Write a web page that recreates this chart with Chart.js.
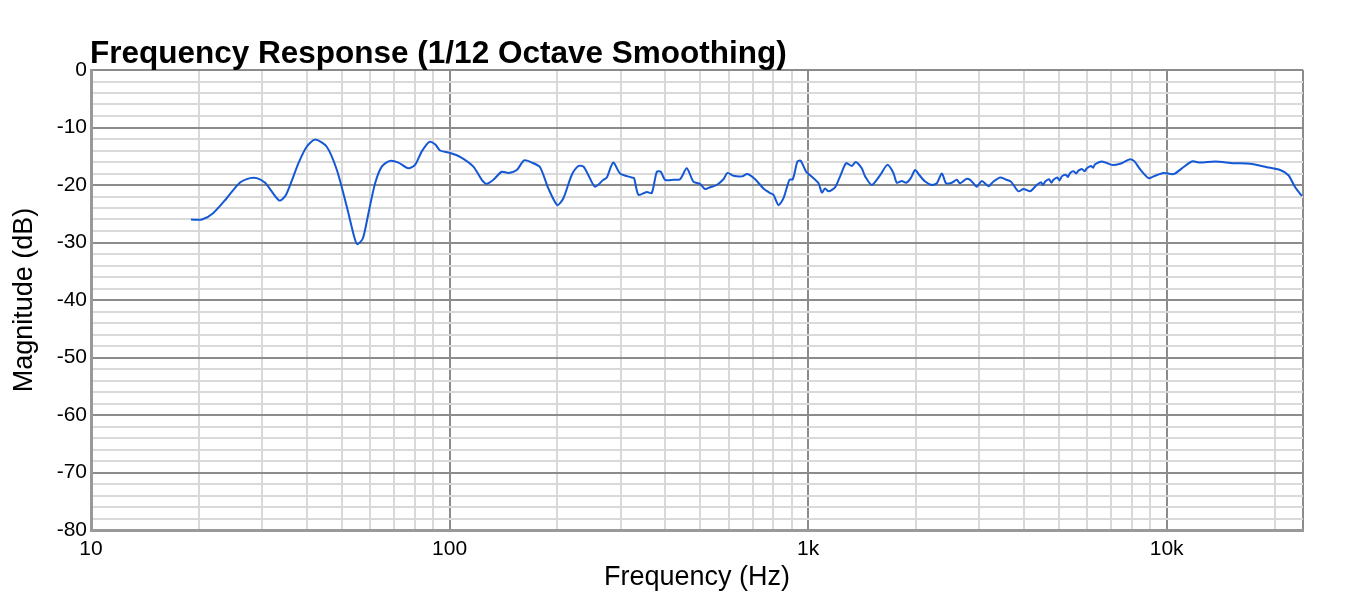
<!DOCTYPE html>
<html>
<head>
<meta charset="utf-8">
<script src="https://cdn.jsdelivr.net/npm/chart.js@4.4.1/dist/chart.umd.min.js"></script>
<style>
  html, body { margin: 0; padding: 0; background: #fff; }
  #wrap { width: 1368px; height: 608px; }
</style>
</head>
<body>
<div id="wrap"><canvas id="fr"></canvas></div>
<script>
const freqs = [19, 20.4, 21.9, 23.9, 26.0, 27.8, 29.0, 30.6, 33.5, 35.0, 37.9, 40.0, 42.2, 45.4, 48.5,
  51.7, 54.2, 55.3, 57.3, 59.4, 62.0, 64.7, 68.2, 72.0, 76.8, 80.1, 83.6, 87.8, 91.1, 94.1,
  100, 107, 116.5, 123, 127, 132.5, 139.8, 145.9, 154, 161.4, 169.6, 178.8, 188.6, 199.8, 207.7,
  219, 228.7, 236.2, 243.9, 254.6, 268.5, 274.4, 286.2, 298.9, 322.2, 327, 336.3, 354.8, 366.4,
  378.4, 388.3, 399.2, 421.1, 439.5, 458.7, 478.6, 499.5, 516, 533, 556, 580.5, 595.6, 619, 653,
  677, 711.6, 750.6, 783.4, 800.5, 826.8, 853.7, 887, 906.5, 934, 954, 987, 1013, 1069, 1092,
  1115, 1140, 1189, 1228, 1276, 1324, 1358, 1411, 1442, 1505, 1588, 1664, 1729, 1767, 1825,
  1877, 1933, 1988, 2044, 2120, 2213, 2285, 2360, 2426, 2516, 2598, 2650, 2712, 2770, 2830,
  2890, 2954, 3051, 3184, 3288, 3433, 3544, 3676, 3740, 3862, 3987, 4161, 4250, 4344, 4460,
  4520, 4583, 4700, 4770, 4834, 4950, 5030, 5101, 5230, 5300, 5381, 5500, 5590, 5676, 5800,
  5900, 5991, 6150, 6230, 6318, 6597, 7035, 7421, 7662, 7911, 8135, 8436, 8898, 9191, 9799,
  10450, 11026, 11757, 12402, 13655, 15360, 17095, 19025, 20725, 21862, 22825, 23831];
const mags = [-26.0, -26.0, -24.9, -22.3, -19.6, -18.8, -18.8, -19.6, -22.7, -21.7, -16.2, -13.3, -12.1, -13.3, -17.4,
  -23.8, -29.0, -30.3, -29.3, -24.9, -19.7, -16.8, -15.8, -16.1, -17.1, -16.5, -14.2, -12.5, -12.9, -14.0,
  -14.4, -15.1, -16.8, -19.1, -19.8, -19.1, -17.7, -17.9, -17.4, -15.7, -16.1, -16.9, -20.6, -23.5, -22.3,
  -18.3, -16.7, -16.8, -18.3, -20.3, -19.1, -18.7, -16.1, -18.0, -18.7, -18.8, -21.7, -21.2, -21.4,
  -17.7, -17.7, -19.1, -19.1, -19.0, -17.1, -19.4, -19.8, -20.7, -20.4, -20.0, -19.0, -17.9, -18.4, -18.5,
  -18.1, -19.0, -20.6, -21.4, -21.7, -23.5, -22.3, -19.1, -19.0, -15.9, -15.8, -17.7, -18.3, -19.7, -21.3,
  -20.6, -21.1, -20.4, -18.5, -16.2, -16.7, -16.0, -17.1, -18.5, -20.0, -18.3, -16.5, -17.9, -19.6, -19.3,
  -19.6, -18.8, -17.4, -18.3, -19.4, -20.0, -19.7, -18.0, -19.7, -19.6, -19.1, -19.7, -19.3, -18.9, -19.1,
  -19.7, -20.3, -19.3, -20.2, -19.4, -18.7, -19.0, -19.4, -20.0, -21.1, -20.7, -21.1, -20.6, -20.0, -19.5,
  -20.0, -19.4, -19.0, -19.6, -19.1, -18.7, -19.2, -18.5, -18.2, -18.6, -17.9, -17.6, -18.0, -17.5, -17.2,
  -17.6, -17.1, -16.7, -17.0, -16.4, -15.9, -16.5, -16.3, -15.9, -15.5, -15.9, -17.3, -18.8, -18.5, -17.9,
  -18.1, -17.1, -15.9, -16.1, -15.9, -16.2, -16.3, -16.9, -17.4, -18.3, -20.4, -21.9];

// axis ticks
const xMajor = [10, 100, 1000, 10000];
const xMajorLabels = ['10', '100', '1k', '10k'];
const xMinor = [20, 30, 40, 50, 60, 70, 80, 90, 200, 300, 400, 500, 600, 700, 800, 900,
  2000, 3000, 4000, 5000, 6000, 7000, 8000, 9000, 20000];
const xMin = 10, xMax = 24000;
const yMin = -80, yMax = 0, yMinorStep = 2, yMajorStep = 10;

const chartTitle = 'Frequency Response (1/12 Octave Smoothing)';
const fontFamily = '"Liberation Sans", Arial, sans-serif';

const points = freqs.map((f, i) => ({ x: f, y: mags[i] }));

const titlePlugin = {
  id: 'leftTitle',
  afterDraw(chart) {
    const ctx = chart.ctx;
    ctx.save();
    ctx.font = 'bold 31.5px ' + fontFamily;
    ctx.fillStyle = '#000';
    ctx.textBaseline = 'alphabetic';
    ctx.fillText(chartTitle, chart.chartArea.left - 1, 63);
    ctx.restore();
  }
};

new Chart(document.getElementById('fr'), {
  type: 'scatter',
  data: {
    datasets: [{
      data: points,
      showLine: true,
      borderColor: '#1558d6',
      borderWidth: 2,
      pointRadius: 0,
      tension: 0.25,
      fill: false
    }]
  },
  options: {
    responsive: true,
    maintainAspectRatio: false,
    animation: false,
    layout: { padding: { top: 70, right: 65, bottom: 0, left: 0 } },
    plugins: {
      legend: { display: false },
      tooltip: { enabled: false }
    },
    scales: {
      x: {
        type: 'logarithmic',
        min: xMin,
        max: xMax,
        afterBuildTicks(scale) {
          const vals = xMajor.concat(xMinor, [xMax]).sort((a, b) => a - b);
          scale.ticks = vals.map(v => ({ value: v }));
        },
        afterFit(scale) { scale.height = 78; },
        ticks: {
          autoSkip: false,
          maxRotation: 0,
          padding: 7,
          color: '#000',
          font: { family: fontFamily, size: 21 },
          callback(v) {
            const i = xMajor.indexOf(v);
            return i >= 0 ? xMajorLabels[i] : '';
          }
        },
        grid: {
          drawTicks: false,
          lineWidth: 2,
          color(ctx) {
            const v = ctx.tick && ctx.tick.value;
            return (xMajor.includes(v) || v === xMax) ? '#8c8c8c' : '#d9d9d9';
          }
        },
        border: { color: '#999', width: 3 },
        title: {
          display: true,
          text: 'Frequency (Hz)',
          color: '#000',
          font: { family: fontFamily, size: 27 },
          padding: { top: 0, bottom: 14 }
        }
      },
      y: {
        min: yMin,
        max: yMax,
        afterFit(scale) { scale.width = 91; },
        ticks: {
          stepSize: yMinorStep,
          autoSkip: false,
          padding: 4,
          color: '#000',
          font: { family: fontFamily, size: 21 },
          callback(v) { return v % yMajorStep === 0 ? String(v) : ''; }
        },
        grid: {
          drawTicks: false,
          lineWidth: 2,
          color(ctx) {
            const v = ctx.tick && ctx.tick.value;
            return v % yMajorStep === 0 ? '#8c8c8c' : '#d9d9d9';
          }
        },
        border: { color: '#999', width: 3 },
        title: {
          display: true,
          text: 'Magnitude (dB)',
          color: '#000',
          font: { family: fontFamily, size: 27 },
          padding: { top: 8, bottom: 0 }
        }
      }
    }
  },
  plugins: [titlePlugin]
});
</script>
</body>
</html>
